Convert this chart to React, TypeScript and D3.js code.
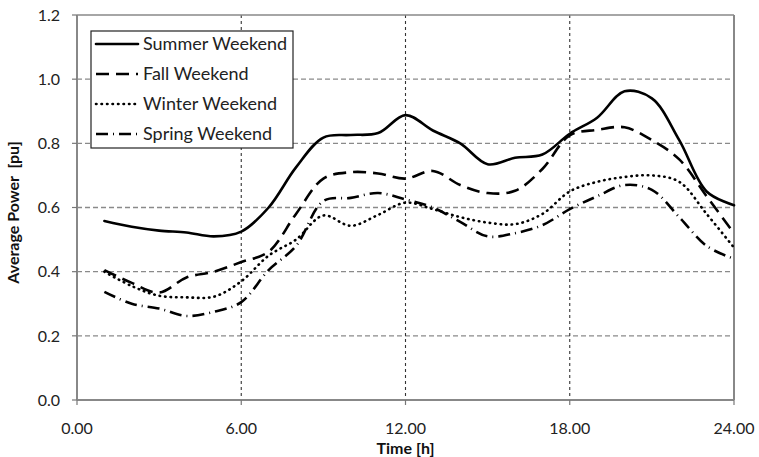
import * as d3 from 'd3';
import React from 'react';

const WIDTH = 759;
const HEIGHT = 457;
const MARGIN = { top: 15, right: 25, bottom: 57, left: 77 };

// hours of the day the profiles are sampled at
const hours = [1, 2, 3, 4, 5, 6, 7, 8, 9, 10, 11, 12, 13, 14, 15, 16, 17, 18, 19, 20, 21, 22, 23, 24];

const summer = [0.558, 0.54, 0.528, 0.522, 0.51, 0.525, 0.6, 0.725, 0.818, 0.826, 0.832, 0.888, 0.84, 0.8, 0.735, 0.755, 0.765, 0.83, 0.88, 0.962, 0.94, 0.81, 0.65, 0.607];
const fall = [0.405, 0.365, 0.335, 0.382, 0.4, 0.43, 0.462, 0.58, 0.69, 0.71, 0.706, 0.69, 0.714, 0.67, 0.645, 0.652, 0.72, 0.825, 0.842, 0.85, 0.81, 0.75, 0.635, 0.52];
const winter = [0.4, 0.355, 0.325, 0.32, 0.322, 0.37, 0.45, 0.5, 0.575, 0.543, 0.577, 0.615, 0.595, 0.57, 0.553, 0.548, 0.58, 0.65, 0.68, 0.695, 0.7, 0.68, 0.58, 0.475];
const spring = [0.337, 0.3, 0.285, 0.262, 0.275, 0.305, 0.405, 0.48, 0.62, 0.63, 0.645, 0.625, 0.6, 0.555, 0.51, 0.52, 0.545, 0.595, 0.635, 0.67, 0.655, 0.57, 0.48, 0.44];

const seriesNames = ['Summer Weekend', 'Fall Weekend', 'Winter Weekend', 'Spring Weekend'];
const seriesValues = [summer, fall, winter, spring];
const seriesDash = ['none', '13,7', '0.5,5', '12,5,1,5'];
const seriesCap = ['round', 'butt', 'round', 'butt'];

const xTicks = [0, 6, 12, 18, 24];
const yTicks = [0, 0.2, 0.4, 0.6, 0.8, 1.0, 1.2];

const FONT = 'Lato, "Open Sans", sans-serif';

export default function App() {
  const boundsWidth = WIDTH - MARGIN.left - MARGIN.right;
  const boundsHeight = HEIGHT - MARGIN.top - MARGIN.bottom;

  const xScale = d3.scaleLinear().domain([0, 24]).range([0, boundsWidth]);
  const yScale = d3.scaleLinear().domain([0, 1.2]).range([boundsHeight, 0]);

  const line = d3
    .line<number>()
    .x((_, i) => xScale(hours[i]))
    .y(d => yScale(d))
    .curve(d3.curveCatmullRom.alpha(0.5));

  const hGrid = yTicks.slice(1, -1).map(t => (
    <line
      key={'h' + t}
      x1={0}
      x2={boundsWidth}
      y1={yScale(t)}
      y2={yScale(t)}
      stroke="#8a8a8a"
      strokeWidth={1.3}
      strokeDasharray="5,3"
    />
  ));

  const vGrid = xTicks.slice(1, -1).map(t => (
    <line
      key={'v' + t}
      x1={xScale(t)}
      x2={xScale(t)}
      y1={0}
      y2={boundsHeight}
      stroke="#333"
      strokeWidth={1.1}
      strokeDasharray="3,3"
    />
  ));

  const yLabels = yTicks.map(t => (
    <g key={'yl' + t}>
      <line x1={-5} x2={0} y1={yScale(t)} y2={yScale(t)} stroke="#777" strokeWidth={1.2} />
      <text x={-17} y={yScale(t)} dy="0.36em" textAnchor="end" fontSize={16} fill="#222">
        {t.toFixed(1)}
      </text>
    </g>
  ));

  const xLabels = xTicks.map(t => (
    <g key={'xl' + t}>
      <line x1={xScale(t)} x2={xScale(t)} y1={boundsHeight} y2={boundsHeight + 5} stroke="#777" strokeWidth={1.2} />
      <text x={xScale(t)} y={boundsHeight + 34} textAnchor="middle" fontSize={16} fill="#222">
        {t.toFixed(2)}
      </text>
    </g>
  ));

  const paths = seriesValues.map((vals, i) => (
    <path
      key={seriesNames[i]}
      d={line(vals) ?? ''}
      fill="none"
      stroke="#000"
      strokeWidth={2.6}
      strokeDasharray={seriesDash[i]}
      strokeLinecap={seriesCap[i] as 'round' | 'butt'}
    />
  ));

  // legend box sits in the upper left corner of the plot
  const legendX = 14;
  const legendY = 16;
  const legend = (
    <g transform={`translate(${legendX},${legendY})`}>
      <rect x={0} y={0} width={202} height={117} fill="#fff" stroke="#222" strokeWidth={1.2} />
      {seriesNames.map((name, i) => (
        <g key={name} transform={`translate(0,${13 + i * 30})`}>
          <line
            x1={5}
            x2={47}
            y1={0}
            y2={0}
            stroke="#000"
            strokeWidth={2.6}
            strokeDasharray={seriesDash[i]}
            strokeLinecap={seriesCap[i] as 'round' | 'butt'}
          />
          <text x={52} y={0} dy="0.35em" fontSize={18} fill="#222">
            {name}
          </text>
        </g>
      ))}
    </g>
  );

  return (
    <svg
      width={WIDTH}
      height={HEIGHT}
      style={{ position: 'absolute', left: 0, top: 0, background: '#fff' }}
      fontFamily={FONT}
    >
      <g transform={`translate(${MARGIN.left},${MARGIN.top})`}>
        {hGrid}
        {vGrid}
        {/* plot area border: top and right */}
        <line x1={0} x2={boundsWidth} y1={0} y2={0} stroke="#888" strokeWidth={1.5} />
        <line x1={boundsWidth} x2={boundsWidth} y1={0} y2={boundsHeight} stroke="#888" strokeWidth={2} />
        {paths}
        {/* axes */}
        <line x1={0} x2={boundsWidth} y1={boundsHeight} y2={boundsHeight} stroke="#888" strokeWidth={2} />
        <line x1={0} x2={0} y1={0} y2={boundsHeight} stroke="#888" strokeWidth={2} />
        {yLabels}
        {xLabels}
        {legend}
        <text
          x={boundsWidth / 2}
          y={boundsHeight + 54}
          textAnchor="middle"
          fontSize={16}
          fontWeight="bold"
          fill="#111"
        >
          Time [h]
        </text>
        <text
          transform={`translate(${-58},${boundsHeight / 2 + 5}) rotate(-90)`}
          textAnchor="middle"
          fontSize={16}
          fontWeight="bold"
          fill="#111"
          style={{ whiteSpace: 'pre' }}
        >
          {'Average Power  [pu]'}
        </text>
      </g>
    </svg>
  );
}
